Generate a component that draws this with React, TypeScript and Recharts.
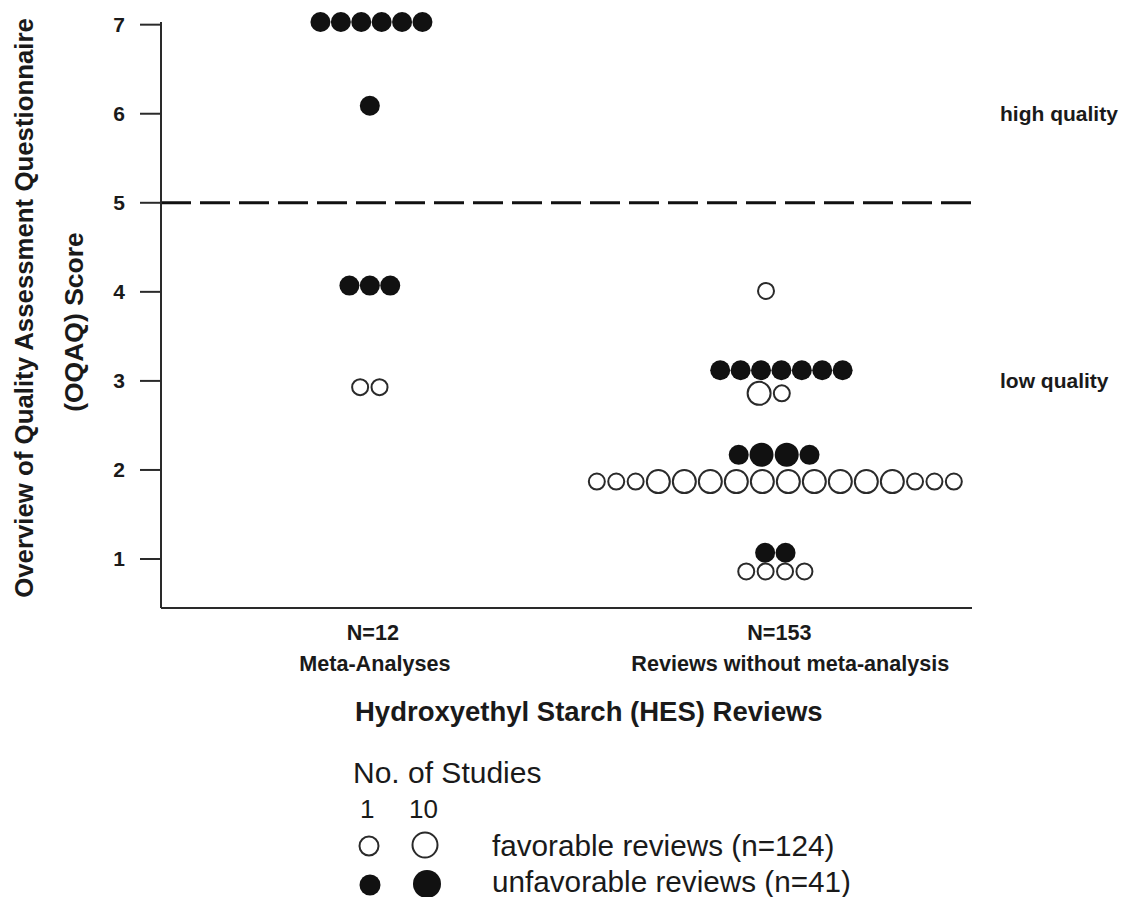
import React from 'react';
import { ScatterChart, Scatter, XAxis, YAxis, ReferenceLine, Customized } from 'recharts';

const W = 1124;
const H = 897;
const FONT = "'Liberation Sans', Arial, Helvetica, sans-serif";

// plot frame
const MARGIN = { top: 22, right: 152, bottom: 0, left: 0 };
const Y_AXIS_W = 161;
const X_AXIS_H = 289;
const PLOT_W = W - MARGIN.right - Y_AXIS_W;

const X_DOMAIN: [number, number] = [0.485, 2.485];
const Y_DOMAIN: [number, number] = [0.45, 7.03];
const PX_PER_X = PLOT_W / (X_DOMAIN[1] - X_DOMAIN[0]);

// categories
const categoryPos = [1, 2];
const categoryN = ['N=12', 'N=153'];
const categoryNames = ['Meta-Analyses', 'Reviews without meta-analysis'];
const yTicks = [1, 2, 3, 4, 5, 6, 7];

// rows of markers: group (x category), score, studies per marker, row shift (x units)
const favorableRows = [
  { group: 1, score: 2.93, counts: [1, 1], shift: 0 },
  { group: 2, score: 4.01, counts: [1], shift: -0.023 },
  { group: 2, score: 2.86, counts: [10, 1], shift: -0.012 },
  { group: 2, score: 1.87, counts: [1, 1, 1, 10, 10, 10, 10, 10, 10, 10, 10, 10, 10, 1, 1, 1], shift: 0 },
  { group: 2, score: 0.86, counts: [1, 1, 1, 1], shift: 0 },
];
const unfavorableRows = [
  { group: 1, score: 7.03, counts: [1, 1, 1, 1, 1, 1], shift: 0.004 },
  { group: 1, score: 6.09, counts: [1], shift: 0 },
  { group: 1, score: 4.07, counts: [1, 1, 1], shift: 0 },
  { group: 2, score: 3.12, counts: [1, 1, 1, 1, 1, 1, 1], shift: 0.015 },
  { group: 2, score: 2.17, counts: [1, 10, 10, 1], shift: -0.003 },
  { group: 2, score: 1.07, counts: [1, 1], shift: 0 },
];

// packing half-widths (px) and drawn radii
const packR = { open: { 1: 9.7, 10: 13 }, filled: { 1: 10.2, 10: 12.6 } } as const;
const drawR = { open: { 1: 8, 10: 11.5 }, filled: { 1: 10, 10: 12 } } as const;

type Row = { group: number; score: number; counts: number[]; shift: number };

function packRows(rows: Row[], kind: 'open' | 'filled') {
  const out: { x: number; y: number; n: number }[] = [];
  rows.forEach((row) => {
    const pos: number[] = [0];
    for (let i = 1; i < row.counts.length; i++) {
      const a = (packR[kind] as any)[row.counts[i - 1]];
      const b = (packR[kind] as any)[row.counts[i]];
      pos.push(pos[i - 1] + a + b);
    }
    const mid = (pos[0] + pos[pos.length - 1]) / 2;
    row.counts.forEach((n, i) => {
      out.push({ x: row.group + row.shift + (pos[i] - mid) / PX_PER_X, y: row.score, n });
    });
  });
  return out;
}

const favorableData = packRows(favorableRows, 'open');
const unfavorableData = packRows(unfavorableRows, 'filled');

const OpenDot = (props: any) => {
  const { cx, cy, payload } = props;
  return <circle cx={cx} cy={cy} r={(drawR.open as any)[payload.n]} fill="#fff" stroke="#2a2a2a" strokeWidth={2} />;
};
const FilledDot = (props: any) => {
  const { cx, cy, payload } = props;
  return <circle cx={cx} cy={cy} r={(drawR.filled as any)[payload.n]} fill="#111" />;
};

const nDx = [3, 4];
const nameDx = [5, 15];

const CategoryTick = (props: any) => {
  const { x, y, payload } = props;
  const i = categoryPos.indexOf(payload.value);
  if (i < 0) return null;
  return (
    <g>
      <text x={x + nDx[i]} y={y + 32} textAnchor="middle" fontFamily={FONT} fontWeight="bold" fontSize={21.6} fill="#1a1a1a">
        {categoryN[i]}
      </text>
      <text x={x + nameDx[i]} y={y + 63} textAnchor="middle" fontFamily={FONT} fontWeight="bold" fontSize={21.6} fill="#1a1a1a">
        {categoryNames[i]}
      </text>
    </g>
  );
};

const Annotations = () => (
  <g fontFamily={FONT} fill="#1a1a1a">
    <text x={24} y={308} transform="rotate(-90, 24, 308)" textAnchor="middle" dominantBaseline="central" fontWeight="bold" fontSize={25.8}>
      Overview of Quality Assessment Questionnaire
    </text>
    <text x={74} y={322} transform="rotate(-90, 74, 322)" textAnchor="middle" dominantBaseline="central" fontWeight="bold" fontSize={26.5}>
      (OQAQ) Score
    </text>
    <text x={355} y={721} fontWeight="bold" fontSize={27.5}>Hydroxyethyl Starch (HES) Reviews</text>
    <text x={353} y={783} fontSize={30}>No. of Studies</text>
    <text x={360} y={818} fontSize={26}>1</text>
    <text x={409} y={818} fontSize={26}>10</text>
    <circle cx={369} cy={846} r={9.5} fill="#fff" stroke="#2a2a2a" strokeWidth={2} />
    <circle cx={425} cy={845} r={12.5} fill="#fff" stroke="#2a2a2a" strokeWidth={2} />
    <circle cx={370} cy={885} r={10.5} fill="#111" />
    <circle cx={427} cy={884} r={14} fill="#111" />
    <text x={492} y={856} fontSize={29.7}>favorable reviews (n=124)</text>
    <text x={492} y={892} fontSize={29.7}>unfavorable reviews (n=41)</text>
  </g>
);

export default function App() {
  return (
    <div style={{ position: 'absolute', left: 0, top: 0, width: W, height: H, background: '#fff' }}>
      <ScatterChart width={W} height={H} margin={MARGIN}>
        <XAxis
          type="number"
          dataKey="x"
          domain={X_DOMAIN}
          ticks={categoryPos}
          height={X_AXIS_H}
          tickLine={false}
          tickSize={0}
          tickMargin={0}
          axisLine={{ stroke: '#2a2a2a', strokeWidth: 2 }}
          tick={<CategoryTick />}
          interval={0}
        />
        <YAxis
          type="number"
          dataKey="y"
          domain={Y_DOMAIN}
          ticks={yTicks}
          width={Y_AXIS_W}
          tickSize={21}
          tickMargin={15}
          axisLine={{ stroke: '#2a2a2a', strokeWidth: 2 }}
          tickLine={{ stroke: '#2a2a2a', strokeWidth: 2 }}
          tick={{ fill: '#1a1a1a', fontSize: 21, fontWeight: 'bold', fontFamily: FONT }}
          interval={0}
        />
        <ReferenceLine y={5} stroke="#111" strokeWidth={3} strokeDasharray="30 9" />
        <ReferenceLine
          y={6}
          stroke="none"
          label={{ value: 'high quality', position: 'right', offset: 28, fill: '#1a1a1a', fontSize: 21, fontWeight: 'bold', fontFamily: FONT }}
        />
        <ReferenceLine
          y={3}
          stroke="none"
          label={{ value: 'low quality', position: 'right', offset: 28, fill: '#1a1a1a', fontSize: 21, fontWeight: 'bold', fontFamily: FONT }}
        />
        <Scatter name="favorable" data={favorableData} shape={<OpenDot />} isAnimationActive={false} />
        <Scatter name="unfavorable" data={unfavorableData} shape={<FilledDot />} isAnimationActive={false} />
        <Customized component={Annotations} />
      </ScatterChart>
    </div>
  );
}
